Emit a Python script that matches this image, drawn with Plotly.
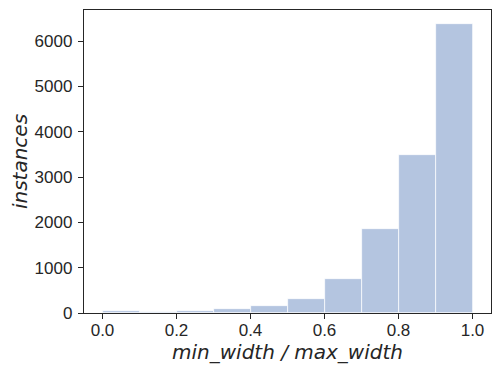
import plotly.graph_objects as go

bin_centers = [0.05, 0.15, 0.25, 0.35, 0.45, 0.55, 0.65, 0.75, 0.85, 0.95]
counts = [40, 32, 51, 80, 146, 300, 743, 1845, 3480, 6369]
x_ticks = [0.0, 0.2, 0.4, 0.6, 0.8, 1.0]
y_ticks = [0, 1000, 2000, 3000, 4000, 5000, 6000]

fig = go.Figure(go.Bar(
    x=bin_centers,
    y=counts,
    width=0.1,
    marker={'color': '#b4c5e0', 'line': {'color': 'white', 'width': 0.7}}))

axis_common = dict(
    showgrid=False, zeroline=False, automargin=False,
    showline=True, linecolor='#262626', linewidth=1.3, mirror=True,
    ticks='outside', ticklen=5, tickwidth=1.3, tickcolor='#262626',
    tickfont={'family': 'Liberation Sans', 'size': 17, 'color': '#262626'})

fig.update_xaxes(
    range=[-0.05, 1.05], tickvals=x_ticks, ticktext=['%.1f' % v for v in x_ticks],
    ticklabelstandoff=-4,
    title={'text': '<i>min_width / max_width</i>', 'standoff': 4,
           'font': {'family': 'DejaVu Sans', 'size': 20, 'color': '#262626'}},
    **axis_common)
fig.update_yaxes(
    range=[0, 6687], tickvals=y_ticks, ticklabelstandoff=2,
    title={'text': '<i>instances</i>', 'standoff': 6,
           'font': {'family': 'DejaVu Sans', 'size': 20, 'color': '#262626'}},
    **axis_common)

# page body adds an 8px offset, so the figure is drawn a bit smaller
fig.update_layout(
    width=492, height=367,
    margin={'l': 76, 'r': 9, 't': 2, 'b': 62},
    plot_bgcolor='white', paper_bgcolor='white',
    bargap=0, showlegend=False)

fig.write_html("out.html")
